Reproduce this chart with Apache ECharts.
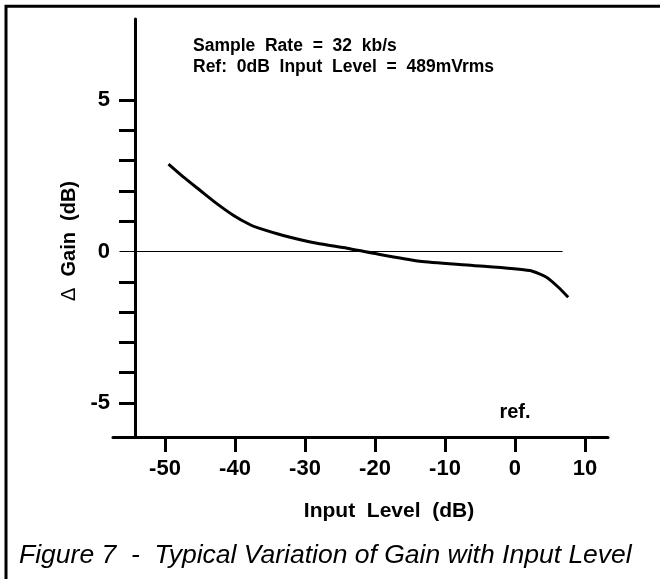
<!DOCTYPE html>
<html>
<head>
<meta charset="utf-8">
<script src="https://cdn.jsdelivr.net/npm/echarts@6/dist/echarts.min.js"></script>
<style>
  html, body { margin: 0; padding: 0; background: #fff; }
  #chart { width: 660px; height: 579px; }
</style>
</head>
<body>
<div id="chart"></div>
<script>
// ---- data ----
const inputLevel = [-49.5, -47.4, -45.0, -42.6, -40.2, -37.9, -36.7, -33.1, -28.3, -24.0, -20.2, -13.6, -6.0, 2.1, 4.5, 6.2, 7.6];
const deltaGain  = [2.88, 2.46, 2.02, 1.58, 1.19, 0.89, 0.78, 0.53, 0.27, 0.11, -0.06, -0.32, -0.46, -0.63, -0.85, -1.18, -1.51];
const xTickValues = [-50, -40, -30, -20, -10, 0, 10];
const yTickValues = [5, 4, 3, 2, 1, -1, -2, -3, -4, -5];
const yLabelValues = [5, 0, -5];
const zeroLineX = [-56.5, 6.8];
const refMarkX = 0;
const refMarkY = -5.3;
const noteLines = ['Sample  Rate  =  32  kb/s', 'Ref:  0dB  Input  Level  =  489mVrms'];
const xTitle = 'Input  Level  (dB)';
const yTitle = '{d|\u0394}  Gain  (dB)';
const caption = 'Figure 7  -  Typical Variation of Gain with Input Level';

const FONT = '"Liberation Sans", Arial, Helvetica, sans-serif';
const chart = echarts.init(document.getElementById('chart'), null, { renderer: 'canvas' });

chart.setOption({
  backgroundColor: '#fff',
  animation: false,
  textStyle: { fontFamily: FONT, color: '#000' },
  title: [
    {
      text: noteLines.join('\n'),
      left: 193, top: 36, padding: 0,
      textStyle: { fontFamily: FONT, fontSize: 17.5, fontWeight: 'bold', color: '#000', lineHeight: 21 }
    },
    {
      text: caption,
      left: 19, top: 543, padding: 0,
      textStyle: { fontFamily: FONT, fontSize: 26.5, fontWeight: 'normal', fontStyle: 'italic', color: '#000', lineHeight: 26 }
    }
  ],
  graphic: [
    { type: 'rect', left: 3.5, top: 3.8, shape: { x: 0, y: 0, width: 800, height: 800 },
      style: { fill: null, stroke: '#000', lineWidth: 3 }, silent: true }
  ],
  grid: { left: 113, right: 52, top: 19, bottom: 142, outerBoundsMode: 'none', containLabel: false },
  xAxis: {
    type: 'value', min: -57.43, max: 13.29,
    axisLine: { show: true, onZero: false, lineStyle: { color: '#000', width: 3 } },
    axisTick: { show: true, inside: false, length: 15, customValues: xTickValues, lineStyle: { color: '#000', width: 3 } },
    axisLabel: { customValues: xTickValues, margin: 21, fontFamily: FONT, fontSize: 22, fontWeight: 'bold', color: '#000' },
    splitLine: { show: false },
    name: xTitle, nameLocation: 'middle', nameGap: 64,
    nameTextStyle: { fontFamily: FONT, fontSize: 21, fontWeight: 'bold', color: '#000', padding: [0, 0, 0, 57] }
  },
  yAxis: {
    type: 'value', min: -6.12, max: 7.67, offset: -22,
    axisLine: { show: true, onZero: false, lineStyle: { color: '#000', width: 3 } },
    axisTick: { show: true, inside: false, length: 16, customValues: yTickValues, lineStyle: { color: '#000', width: 3 } },
    axisLabel: { customValues: yLabelValues, margin: 25, fontFamily: FONT, fontSize: 22, fontWeight: 'bold', color: '#000' },
    splitLine: { show: false },
    name: yTitle, nameLocation: 'middle', nameGap: 46,
    nameTextStyle: {
      fontFamily: FONT, fontSize: 20, fontWeight: 'bold', color: '#000', padding: [0, 26, 0, 0],
      rich: { d: { fontFamily: FONT, fontSize: 20, fontWeight: 'normal', color: '#000' } }
    }
  },
  series: [
    {
      type: 'line',
      data: inputLevel.map((x, i) => [x, deltaGain[i]]),
      smooth: 0.2,
      showSymbol: false,
      symbol: 'none',
      lineStyle: { color: '#000', width: 3 },
      silent: true,
      markLine: {
        silent: true, symbol: ['none', 'none'],
        label: { show: false },
        lineStyle: { color: '#000', width: 1, type: 'solid' },
        data: [[{ coord: [zeroLineX[0], 0] }, { coord: [zeroLineX[1], 0] }]]
      },
      markPoint: {
        silent: true,
        symbol: 'circle', symbolSize: 0,
        label: { show: true, position: 'inside', formatter: 'ref.', fontFamily: FONT, fontSize: 20, fontWeight: 'bold', color: '#000' },
        data: [{ coord: [refMarkX, refMarkY] }]
      }
    }
  ]
});
</script>
</body>
</html>
